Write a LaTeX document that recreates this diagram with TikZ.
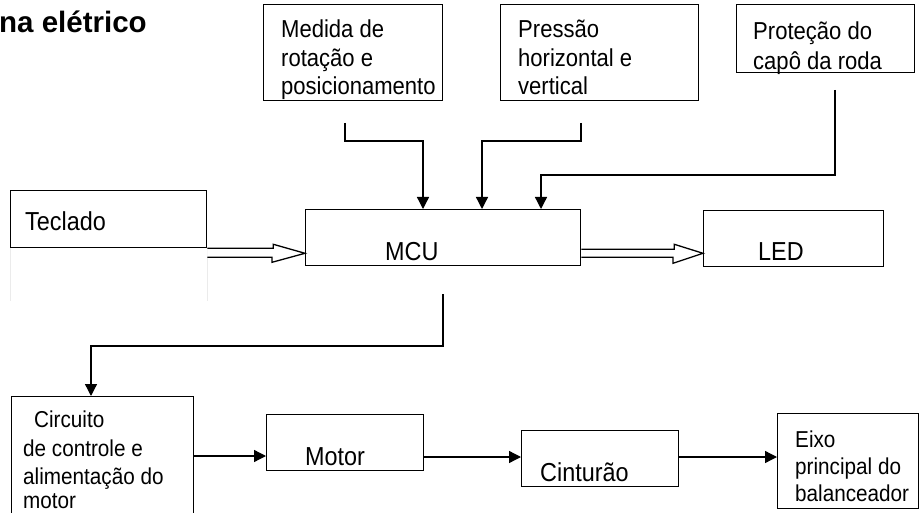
\documentclass[tikz,border=0pt]{standalone}
\usepackage{fontspec}
\setmainfont{Liberation Sans}
\newfontfamily\lblfont[FakeStretch=0.9]{Liberation Sans}
\usetikzlibrary{arrows.meta,calc}
\begin{document}
\begin{tikzpicture}[x=1pt,y=-1pt,
  box/.style={draw,line width=1.3pt,rectangle,inner sep=0pt,anchor=north west},
  lbl/.style={anchor=base west,inner sep=0pt,font=\lblfont\fontsize{24.5}{28}\selectfont},
  sml/.style={lbl,font=\lblfont\fontsize{23}{27}\selectfont},
  big/.style={lbl,font=\lblfont\fontsize{26}{30}\selectfont},
  conn/.style={line width=1.3pt,-{Triangle[length=12pt,width=12pt]}},
  dbl/.style={line width=1.3pt,line join=miter,fill=white},
  faint/.style={draw=black!8,line width=0.8pt}
]
\useasboundingbox (0,0) rectangle (921,513);
% title
\node[anchor=base west,inner sep=0pt,font=\bfseries\fontsize{29.5}{32}\selectfont] (title) at (-1,33) {na elétrico};
% boxes
\node[box,minimum width=179pt,minimum height=96pt] (medida) at (263,4) {};
\node[box,minimum width=198pt,minimum height=96pt] (pressao) at (500,4) {};
\node[box,minimum width=178pt,minimum height=68pt] (protecao) at (736,4) {};
\node[box,minimum width=196pt,minimum height=57pt] (tec) at (10,190) {};
\node[box,minimum width=275pt,minimum height=56pt] (mcu) at (305,209) {};
\node[box,minimum width=180pt,minimum height=56pt] (led) at (703,210) {};
\node[box,minimum width=182pt,minimum height=130pt] (circ) at (11,396) {};
\node[box,minimum width=157pt,minimum height=56pt] (motor) at (266,414) {};
\node[box,minimum width=157pt,minimum height=56pt] (cint) at (521,430) {};
\node[box,minimum width=141pt,minimum height=95pt] (eixo) at (777,413) {};
% labels
\node[lbl] (t1a) at (281,38) {Medida de};
\node[lbl] (t1b) at (281,67) {rotação e};
\node[lbl] (t1c) at (281,95) {posicionamento};
\node[lbl] (t2a) at (518,38) {Pressão};
\node[lbl] (t2b) at (518,67) {horizontal e};
\node[lbl] (t2c) at (518,95) {vertical};
\node[lbl] (t3a) at (753,40) {Proteção do};
\node[lbl] (t3b) at (753,70) {capô da roda};
\node[big] (t4) at (25,230) {Teclado};
\node[big] (t5) at (385,261) {MCU};
\node[big] (t6) at (758,261) {LED};
\node[sml] (t7a) at (34,427) {Circuito};
\node[sml] (t7b) at (23,456) {de controle e};
\node[sml] (t7c) at (23,484) {alimentação do};
\node[sml] (t7d) at (23,508) {motor};
\node[big] (t8) at (305,465) {Motor};
\node[big] (t9) at (540,481) {Cinturão};
\node[sml] (t10a) at (795,447) {Eixo};
\node[sml] (t10b) at (795,474) {principal do};
\node[sml] (t10c) at (795,501) {balanceador};
% faint lines under Teclado
\draw[faint] (tec.south west) -- ++(0,53);
\draw[faint] (tec.south east) -- ++(0,53);
% free ends
\coordinate (m1) at (345,123);
\coordinate (p1) at (581,123);
\coordinate (r1) at (835,90);
\coordinate (c1) at (443,294);
% connectors into MCU
\draw[conn] (m1) -- ++(0,18) -| ($(mcu.north west)+(118,0)$);
\draw[conn] (p1) -- ++(0,18) -| ($(mcu.north west)+(177,0)$);
\draw[conn] (r1) -- ++(0,85) -| ($(mcu.north west)+(236,0)$);
% MCU to circuit
\draw[conn] (c1) -- ++(0,52) -| (circ.north -| 91,0);
% bottom chain
\draw[conn] ($(circ.north east)+(0,60)$) -- ($(motor.north west)+(0,42)$);
\draw[conn] ($(motor.north east)+(0,43)$) -- ($(cint.north west)+(0,27)$);
\draw[conn] ($(cint.north east)+(0,27)$) -- ($(eixo.north west)+(0,44)$);
% double arrows
\draw[dbl] (tec.south east) -- ++(66,0) -- ++(0,-4) -- ($(mcu.south west)+(0,-13)$) -- ++(-33,9) -- ++(0,-5) -- ($(tec.south east)+(0,9)$);
\draw[dbl] ($(mcu.south east)+(0,-17)$) -- ++(93,0) -- ++(0,-5) -- ($(led.south west)+(0,-14)$) -- ++(-30,10) -- ++(0,-6) -- ($(mcu.south east)+(0,-9)$);
\end{tikzpicture}
\end{document}
